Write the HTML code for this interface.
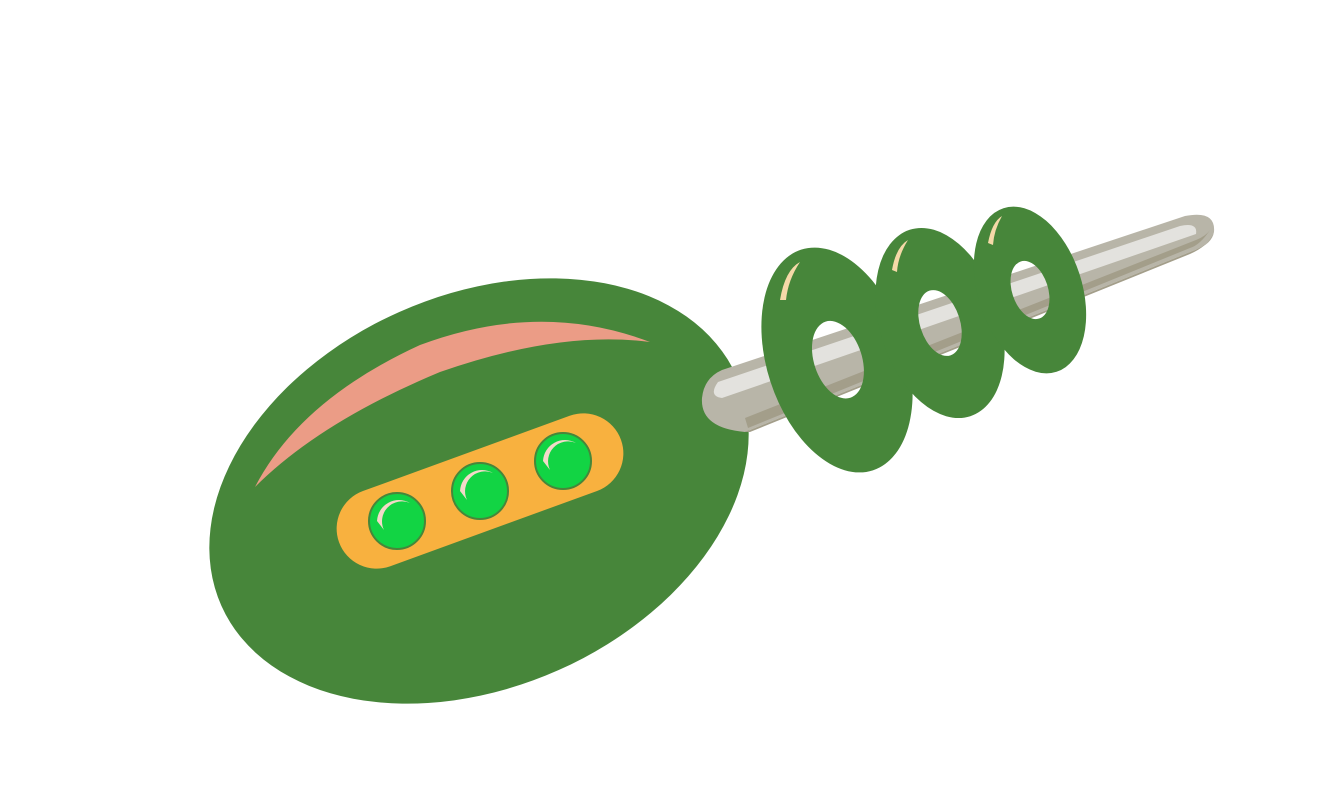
<!DOCTYPE html>
<html><head><meta charset="utf-8"><style>
html,body{margin:0;padding:0;background:#fff;}
svg{display:block;}
</style></head><body>
<svg width="1334" height="803" viewBox="0 0 1334 803" xmlns="http://www.w3.org/2000/svg">
  <g>
    <ellipse cx="479" cy="491" rx="282" ry="196" transform="rotate(-24 479 491)" fill="#47863a"/>
    <path d="M255,487 Q300,400 420,345 Q540,300 650,342 Q560,330 440,372 Q320,422 255,487 Z" fill="#eb9c86"/>
  </g>
  <g>
    <path d="M722,370 L1185,216 Q1216,210 1214,232 Q1212,244 1195,250 L745,432 Q700,428 702,398 Q704,378 722,370 Z" fill="#b8b5a8"/>
    <path d="M745,432 L1195,250 Q1210,244 1213,234 Q1208,246 1190,254 L750,432 Z" fill="#a39e8a"/>
    <path d="M745,418 L1196,240 Q1206,236 1210,230 Q1200,245 1190,248 L748,428 Z" fill="#a39e8a"/>
    <path d="M718,382 L1180,226 Q1198,222 1196,234 L722,398 Q708,396 718,382 Z" fill="#e3e2de"/>
  </g>
  <g>
    <rect x="330" y="451" width="300" height="80" rx="40" transform="rotate(-20 480 491)" fill="#f8b13f"/>
    <g>
      <circle cx="397" cy="521" r="28" fill="#12d444" stroke="#47863a" stroke-width="2"/>
      <path d="M377,521 A22,22 0 0 1 410,503 A20,20 0 0 0 384,530 Z" fill="#f3d9c9"/>
    </g>
    <g>
      <circle cx="480" cy="491" r="28" fill="#12d444" stroke="#47863a" stroke-width="2"/>
      <path d="M460,491 A22,22 0 0 1 493,473 A20,20 0 0 0 467,500 Z" fill="#f3d9c9"/>
    </g>
    <g>
      <circle cx="563" cy="461" r="28" fill="#12d444" stroke="#47863a" stroke-width="2"/>
      <path d="M543,461 A22,22 0 0 1 576,443 A20,20 0 0 0 550,470 Z" fill="#f3d9c9"/>
    </g>
  </g>
  <g>
    <path fill-rule="evenodd" fill="#47863a" transform="rotate(-18 837 360)" d="M767,360 A70,116 0 1 0 907,360 A70,116 0 1 0 767,360 Z M814,360 A24,40 0 1 1 862,360 A24,40 0 1 1 814,360 Z"/>
    <path d="M780,300 Q785,270 800,262 Q788,280 786,300 Z" fill="#f5d9a8"/>
  </g>
  <g>
    <path fill-rule="evenodd" fill="#47863a" transform="rotate(-18 940 323)" d="M880,323 A60,98 0 1 0 1000,323 A60,98 0 1 0 880,323 Z M920,323 A20,34 0 1 1 960,323 A20,34 0 1 1 920,323 Z"/>
    <path d="M892,270 Q896,247 908,240 Q898,256 897,272 Z" fill="#f5d9a8"/>
  </g>
  <g>
    <path fill-rule="evenodd" fill="#47863a" transform="rotate(-18 1030 290)" d="M978,290 A52,86 0 1 0 1082,290 A52,86 0 1 0 978,290 Z M1012,290 A18,30 0 1 1 1048,290 A18,30 0 1 1 1012,290 Z"/>
    <path d="M988,243 Q992,222 1002,216 Q994,230 993,245 Z" fill="#f5d9a8"/>
  </g>
</svg>
</body></html>
